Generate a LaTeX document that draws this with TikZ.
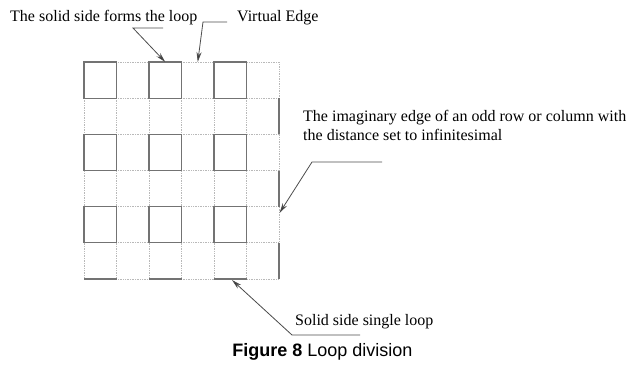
\documentclass[tikz,border=0pt]{standalone}
\usepackage{fontspec}
\setmainfont{Liberation Serif}
\setsansfont{Liberation Sans}
\usetikzlibrary{arrows.meta, positioning}
\tikzset{
	loopsquare/.style={
			rectangle,
			draw=black!55,
			line width=1.3pt,
			minimum width=32.5pt,
			minimum height=36.17pt,
			inner sep=0pt,
			outer sep=0pt
		},
	virtualedge/.style={
			gray!55,
			densely dotted,
			line width=0.7pt
		},
	solidedge/.style={
			draw=black!55,
			line width=1.3pt
		},
	labeltext/.style={
			inner sep=0pt,
			text=black,
			font=\fontsize{16}{19}\selectfont
		},
	leader/.style={
			draw=black!70,
			line width=0.8pt
		},
	leaderarrow/.style={
			leader,
			-{Stealth[length=10pt,width=5pt,fill=black!85]}
		}
}

\begin{document}
\begin{tikzpicture}[x=1pt, y=1pt]
\useasboundingbox (0,0) rectangle (630,365);
\draw[virtualedge, shift={(84,86)}, xstep=32.5, ystep=36.1667] (0,0) grid (195.01,217.01);

\node[loopsquare] (q1) at (100.25,284.92) {};
\node[loopsquare] (q2) at (165.25,284.92) {};
\node[loopsquare] (q3) at (230.25,284.92) {};
\node[loopsquare] (q4) at (100.25,212.58) {};
\node[loopsquare] (q5) at (165.25,212.58) {};
\node[loopsquare] (q6) at (230.25,212.58) {};
\node[loopsquare] (q7) at (100.25,140.25) {};
\node[loopsquare] (q8) at (165.25,140.25) {};
\node[loopsquare] (q9) at (230.25,140.25) {};

\draw[solidedge] (279,266.83) -- (279,230.67);
\draw[solidedge] (279,194.5) -- (279,158.33);
\draw[solidedge] (279,122.17) -- (279,86);
\draw[solidedge] (84,86) -- (116.5,86);
\draw[solidedge] (149,86) -- (181.5,86);
\draw[solidedge] (214,86) -- (246.5,86);

\node[labeltext, anchor=base west] (t1) at (10,343) {The solid side forms the loop};
\node[labeltext, anchor=base west] (t2) at (237,343) {Virtual Edge};
\node[labeltext, anchor=base west, align=left] (t3) at (303,225) {The imaginary edge of an odd row or column with\\the distance set to infinitesimal};
\node[labeltext, anchor=base west] (t4) at (295,40) {Solid side single loop};
\node[font=\sffamily\fontsize{18}{21}\selectfont, anchor=base] (cap) at (322.5,8.3) {\textbf{Figure 8} Loop division};

\coordinate (c1) at (163,337);
\coordinate (b1) at (133,337);
\coordinate (c2) at (227,343);
\coordinate (b2) at (203,343);
\coordinate (e2) at (197.75,303);
\coordinate (c3) at (382,203);
\coordinate (b3) at (312,203);
\coordinate (e3) at (279.5,152);
\coordinate (c4) at (360,30);
\coordinate (b4) at (292,30);
\coordinate (e4) at (232,85);

\draw[leaderarrow] (c1) -- (b1) -- (q2.north);
\draw[leaderarrow] (c2) -- (b2) -- (e2);
\draw[leaderarrow] (c3) -- (b3) -- (e3);
\draw[leaderarrow] (c4) -- (b4) -- (e4);
\end{tikzpicture}
\end{document}
